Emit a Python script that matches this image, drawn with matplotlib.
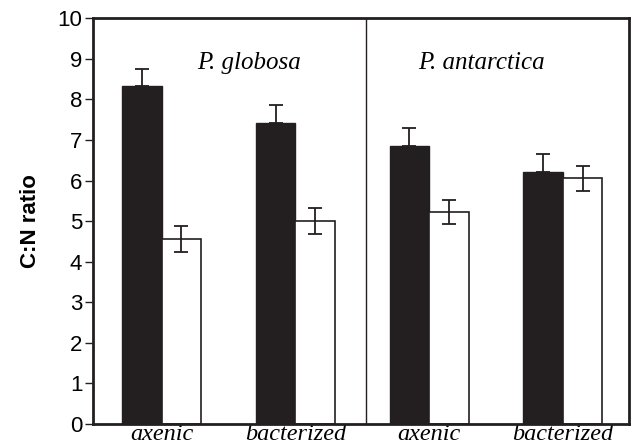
import matplotlib
matplotlib.use("Agg")
import matplotlib.pyplot as plt
import numpy as np

categories = ["axenic", "bacterized", "axenic", "bacterized"]
black_vals = [8.32, 7.42, 6.85, 6.21]
black_err = [0.44, 0.44, 0.44, 0.44]
white_vals = [4.56, 5.01, 5.23, 6.06]
white_err = [0.32, 0.32, 0.30, 0.31]
species = ["P. globosa", "P. antarctica"]

fig = plt.figure(figsize=(6.31, 4.47), dpi=100)
ax = fig.add_axes([93.4/631, 1 - 424/447, (628.5-93.4)/631, (424-18.3)/447])

x = np.arange(len(categories))
w = 0.295
dark = "#231f20"
ax.bar(x - w/2, black_vals, w, color=dark, edgecolor=dark, linewidth=1, zorder=2)
ax.bar(x + w/2, white_vals, w, color="white", edgecolor=dark, linewidth=1.2, zorder=2)
ax.errorbar(x - w/2, black_vals, yerr=[np.zeros(4), black_err], fmt="none",
            ecolor=dark, elinewidth=1.3, capsize=5, capthick=1.3, zorder=3)
ax.errorbar(x + w/2, white_vals, yerr=white_err, fmt="none",
            ecolor=dark, elinewidth=1.3, capsize=5, capthick=1.3, zorder=3)

ax.axvline(1.53, color=dark, linewidth=1.0, zorder=1)

ax.set_xlim(-0.51, 3.49)
ax.set_ylim(0, 10)
ax.set_yticks(range(0, 11))
ax.set_xticks(x)
ax.set_xticklabels(categories, family="Liberation Serif", style="italic", fontsize=17.5)
ax.tick_params(axis="x", length=0, pad=0)
ax.tick_params(axis="y", length=6, width=1, color=dark, labelsize=16, pad=2)
for lab in ax.get_yticklabels():
    lab.set_family("Liberation Sans")

for s in ax.spines.values():
    s.set_linewidth(2)
    s.set_color(dark)

ax.set_ylabel("C:N ratio", family="Liberation Sans", fontweight="bold", fontsize=16, labelpad=12)

ax.text(0.65, 8.9, species[0], family="Liberation Serif", style="italic", fontsize=18,
        ha="center", va="center")
ax.text(2.39, 8.9, species[1], family="Liberation Serif", style="italic", fontsize=18,
        ha="center", va="center")

fig.savefig("out.png", dpi=100)
